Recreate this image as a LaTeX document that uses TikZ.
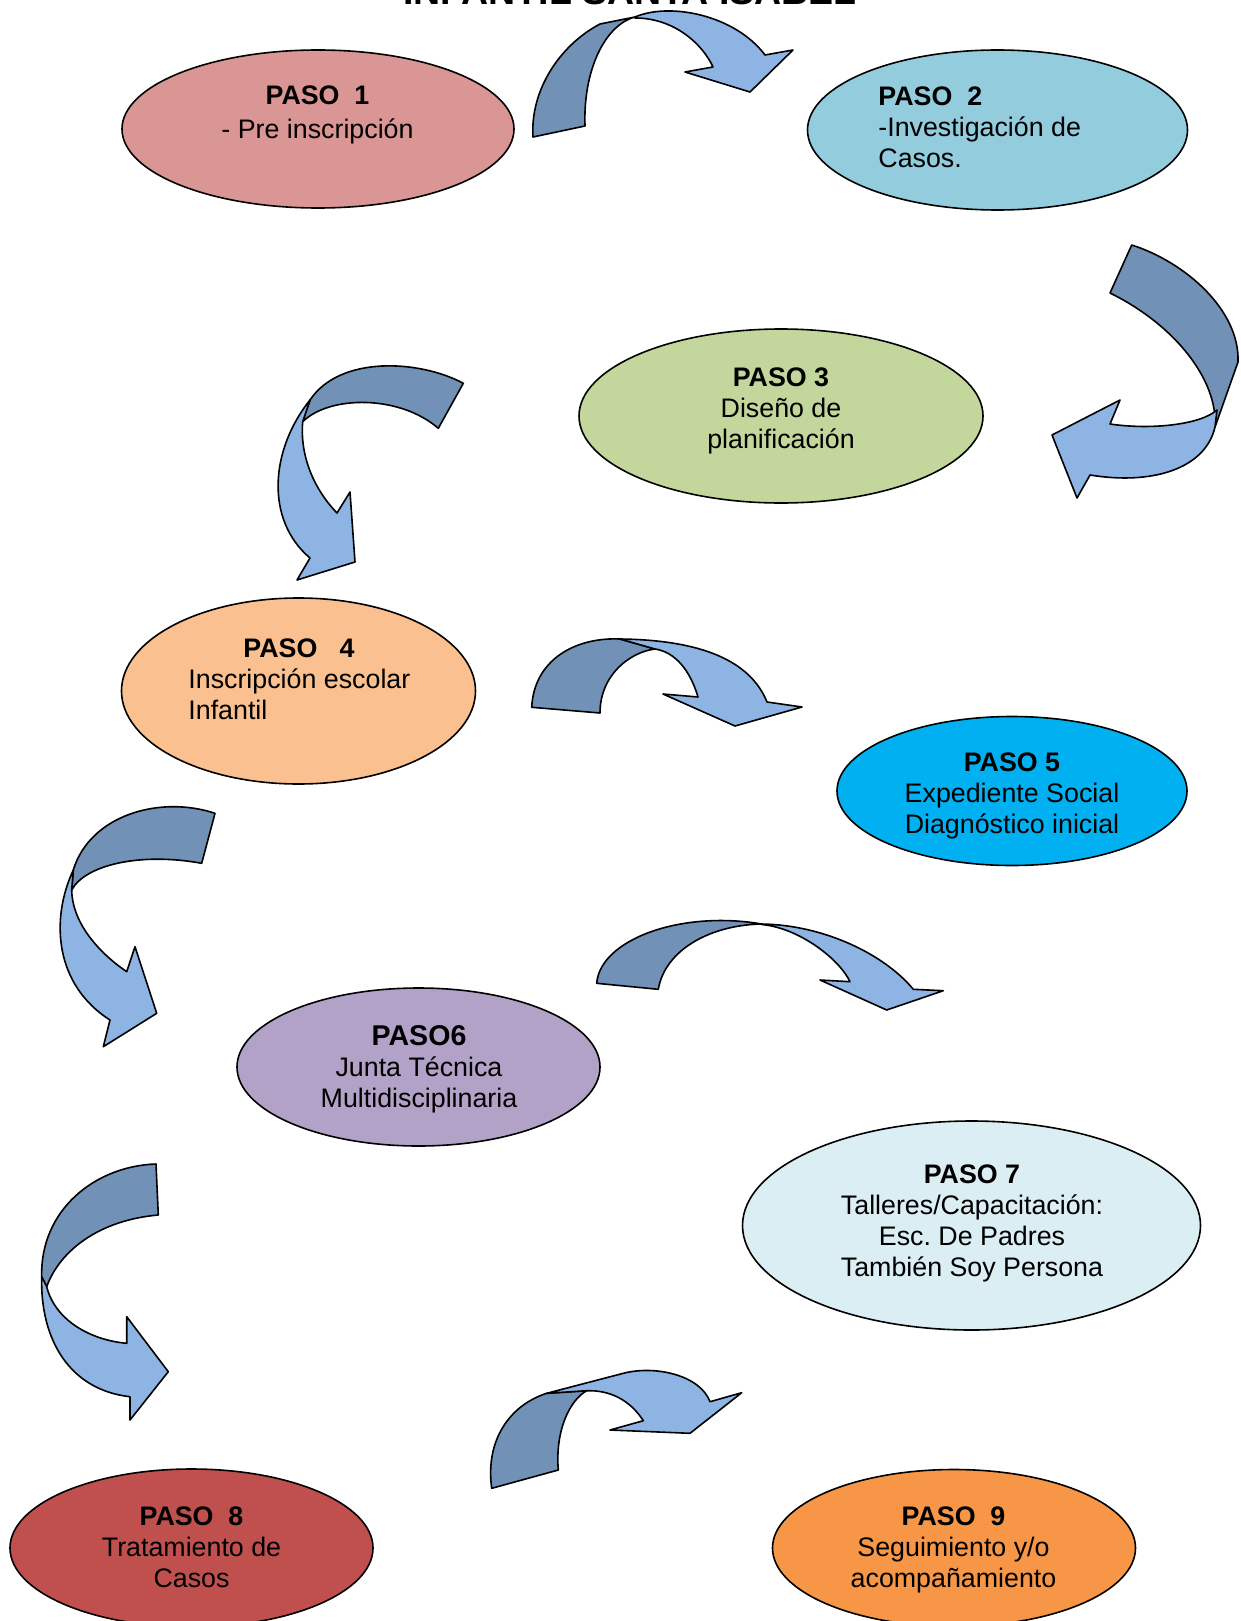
\documentclass[tikz,border=0pt]{standalone}
\usepackage{fontspec}
\setmainfont{Liberation Sans}
\frenchspacing
\usetikzlibrary{shapes.geometric}
\definecolor{bandDark}{RGB}{113,145,183}
\definecolor{bandLight}{RGB}{142,180,227}
\definecolor{colUno}{RGB}{217,150,148}
\definecolor{colDos}{RGB}{147,205,221}
\definecolor{colTres}{RGB}{195,214,155}
\definecolor{colCuatro}{RGB}{250,192,144}
\definecolor{colCinco}{RGB}{0,176,240}
\definecolor{colSeis}{RGB}{179,162,199}
\definecolor{colSiete}{RGB}{219,238,244}
\definecolor{colOcho}{RGB}{192,80,77}
\definecolor{colNueve}{RGB}{247,150,70}
\tikzset{
  paso/.style={ellipse, draw=black, line width=0.8pt, inner sep=0pt},
  txt/.style={inner sep=0pt, font=\fontsize{13.4}{15.5}\selectfont},
  bandA/.style={draw=black, fill=bandDark, line width=0.8pt, line join=round},
  bandB/.style={draw=black, fill=bandLight, line width=0.8pt, line join=round}
}
\begin{document}
\begin{tikzpicture}[x=0.5pt,y=0.5pt,yscale=-1,xscale=1]
\useasboundingbox (0,0) rectangle (1241,1621);

%Shape: Ellipse [paso 1]
\node [paso, fill=colUno, minimum width=196pt, minimum height=79pt] (paso1) at (318,129) {};
%Shape: Ellipse [paso 2]
\node [paso, fill=colDos, minimum width=190pt, minimum height=80pt] (paso2) at (997.5,130) {};
%Shape: Ellipse [paso 3]
\node [paso, fill=colTres, minimum width=202pt, minimum height=87pt] (paso3) at (781,416) {};
%Shape: Ellipse [paso 4]
\node [paso, fill=colCuatro, minimum width=177pt, minimum height=93pt] (paso4) at (298.5,691) {};
%Shape: Ellipse [paso 5]
\node [paso, fill=colCinco, minimum width=175pt, minimum height=74.5pt] (paso5) at (1012,791) {};
%Shape: Ellipse [paso 6]
\node [paso, fill=colSeis, minimum width=181.5pt, minimum height=79pt] (paso6) at (418.5,1067) {};
%Shape: Ellipse [paso 7]
\node [paso, fill=colSiete, minimum width=229pt, minimum height=104.5pt] (paso7) at (971.5,1225.5) {};
%Shape: Ellipse [paso 8]
\node [paso, fill=colOcho, minimum width=181.5pt, minimum height=79pt] (paso8) at (191.5,1548) {};
%Shape: Ellipse [paso 9]
\node [paso, fill=colNueve, minimum width=181.5pt, minimum height=78.5pt] (paso9) at (954,1548) {};

%Curved Arrow [1 a 2]
\draw [bandA] (533,137) .. controls (530,90) and (560,45) .. (600,24) -- (635,17) .. controls (605,25) and (583,70) .. (585,126) -- cycle ;
\draw [bandB] (635,17) .. controls (670,2) and (735,15) .. (765,55) -- (793,50) -- (750,92) -- (685,72) -- (713,67) .. controls (703,45) and (675,18) .. (635,18) -- cycle ;
%Curved Arrow [2 a 3]
\draw [bandA] (1131.7,245) .. controls (1185,262) and (1240,310) .. (1238,362) -- (1215,427) .. controls (1218,380) and (1175,325) .. (1110,293) -- cycle ;
\draw [bandB] (1215,427) .. controls (1205,470) and (1150,485) .. (1090,475) -- (1077,498) -- (1052,435) -- (1120,400) -- (1110,424) .. controls (1150,430) and (1200,425) .. (1217,410) -- cycle ;
%Curved Arrow [3 a 4]
\draw [bandA] (463.3,383.3) .. controls (420,360) and (340,355) .. (310,400) -- (302.7,421.7) .. controls (330,395) and (400,395) .. (438.3,428.3) -- cycle ;
\draw [bandB] (310,400) .. controls (270,450) and (265,520) .. (310,558) -- (297,580) -- (355,562) -- (350,492) -- (337,513) .. controls (310,485) and (300,450) .. (302.7,421.7) -- cycle ;
%Curved Arrow [4 a 5]
\draw [bandA] (531.7,707.3) .. controls (534,660) and (575,637) .. (620,639) -- (655,649) .. controls (630,652) and (600,675) .. (600,713) -- cycle ;
\draw [bandB] (620,639) .. controls (700,640) and (750,660) .. (767,702) -- (802,707) -- (735,726) -- (663,694) -- (698,697) .. controls (690,670) and (675,652) .. (655,649) -- cycle ;
%Curved Arrow [5 a 6]
\draw [bandA] (215,813.3) .. controls (160,795) and (90,815) .. (73.3,870) -- (71.7,890) .. controls (85,865) and (140,852) .. (201.7,863.3) -- cycle ;
\draw [bandB] (73.3,870) .. controls (50,920) and (55,985) .. (110,1020) -- (103.3,1046.7) -- (156.7,1013.3) -- (135,946.7) -- (126.7,971.7) .. controls (95,950) and (72,920) .. (71.7,890) -- cycle ;
%Curved Arrow [6 a 7]
\draw [bandA] (596.7,983.3) .. controls (600,940) and (680,910) .. (761.7,924) .. controls (710,925) and (665,950) .. (658.3,989.3) -- cycle ;
\draw [bandB] (761.7,924) .. controls (825,925) and (885,955) .. (913.3,989.3) -- (943.3,990.7) -- (886.7,1010) -- (820,980) -- (850,981.7) .. controls (840,960) and (800,928) .. (761.7,924.5) -- cycle ;
%Curved Arrow [7 a 8]
\draw [bandA] (156,1164) .. controls (95,1166) and (40,1210) .. (41.7,1276.7) -- (46.7,1286.7) .. controls (60,1250) and (100,1220) .. (158.3,1215) -- cycle ;
\draw [bandB] (41.7,1276.7) .. controls (40,1340) and (70,1390) .. (130,1396.7) -- (130,1420) -- (168.3,1371.7) -- (126.7,1316.7) -- (126.7,1343.3) .. controls (90,1340) and (55,1320) .. (46.7,1286.7) -- cycle ;
%Curved Arrow [8 a 9]
\draw [bandA] (491.7,1488.3) .. controls (485,1440) and (510,1405) .. (546.7,1393.3) -- (586.7,1390.7) .. controls (570,1400) and (555,1430) .. (558.3,1470) -- cycle ;
\draw [bandB] (546.7,1393.3) -- (623.3,1373.3) .. controls (655,1365) and (700,1375) .. (710,1401.7) -- (741.7,1392.7) -- (690,1433.3) -- (610,1430) -- (643.3,1420.7) .. controls (630,1400) and (610,1390) .. (586.7,1390.7) -- cycle ;

% Text Node
\node [inner sep=0pt, anchor=base, font=\fontsize{18.75}{22}\selectfont\bfseries] (titulo) at (630,5) {INFANTIL SANTA ISABEL};
% Text Node
\node [txt, align=center] (txt1) at (317.5,114.6) {\textbf{PASO~~1}\\[1.5pt]- Pre inscripción};
% Text Node
\node [txt, align=left, anchor=west] (txt2) at (878,127) {\textbf{PASO~~2}\\-Investigación de\\Casos.};
% Text Node
\node [txt, align=center] (txt3) at (781,411) {\textbf{PASO 3}\\Diseño de\\planificación};
% Text Node
\node [txt, align=left, anchor=west] (txt4) at (188,679) {\hspace*{27.5pt}\textbf{PASO~~~4}\\Inscripción escolar\\Infantil};
% Text Node
\node [txt, align=center] (txt5) at (1012,796) {\textbf{PASO 5}\\Expediente Social\\Diagnóstico inicial};
% Text Node
\node [txt, align=center] (txt6) at (419,1069.5) {{\fontsize{14.3}{15.5}\selectfont\bfseries PASO6}\\Junta Técnica\\Multidisciplinaria};
% Text Node
\node [txt, align=center] (txt7) at (972,1223) {\textbf{PASO 7}\\Talleres/Capacitación:\\Esc. De Padres\\También Soy Persona};
% Text Node
\node [txt, align=center] (txt8) at (191.5,1547.5) {\textbf{PASO~~8}\\Tratamiento de\\Casos};
% Text Node
\node [txt, align=center] (txt9) at (953.5,1550) {\textbf{PASO~~9}\\Seguimiento y/o\\acompañamiento};

\end{tikzpicture}
\end{document}
